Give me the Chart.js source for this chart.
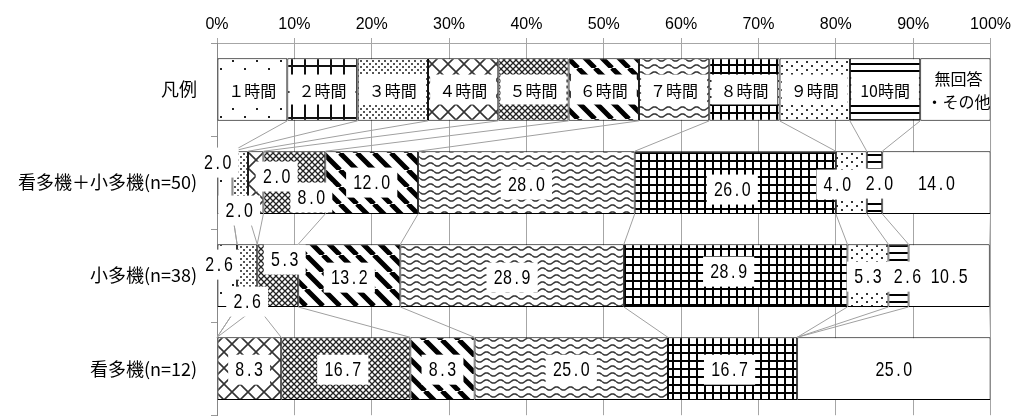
<!DOCTYPE html>
<html>
<head>
<meta charset="utf-8">
<script src="https://cdn.jsdelivr.net/npm/chart.js@4"></script>
<style>
  html, body { margin: 0; padding: 0; background: #fff; overflow: hidden; }
  #wrap { width: 1015px; height: 420px; overflow: hidden; position: relative; }
  canvas { display: block; }
</style>
</head>
<body>
<div id="wrap"><canvas id="c" width="1015" height="440"></canvas></div>
<script>
// Row labels (top to bottom)
const categories = ['凡例', '看多機＋小多機(n=50)', '小多機(n=38)', '看多機(n=12)'];

// Series (hours per day)
const seriesNames = ['１時間', '２時間', '３時間', '４時間', '５時間', '６時間',
                     '７時間', '８時間', '９時間', '10時間', '無回答・その他'];

// Key row: every series gets an equal cell
const keyRow = [9.091, 9.091, 9.091, 9.091, 9.091, 9.091, 9.091, 9.091, 9.091, 9.091, 9.09];

// Percentages per group, in series order
const bothGroups = [2.0, 0, 2.0, 2.0, 8.0, 12.0, 28.0, 26.0, 4.0, 2.0, 14.0];
const smallMulti = [2.6, 0, 2.6, 0, 5.3, 13.2, 28.9, 28.9, 5.3, 2.6, 10.5];
const nurseMulti = [0, 0, 0, 8.3, 16.7, 8.3, 25.0, 16.7, 0, 0, 25.0];

// Axis tick labels
const xTickLabels = ['0%', '10%', '20%', '30%', '40%', '50%', '60%', '70%', '80%', '90%', '100%'];

const rows = [keyRow, bothGroups, smallMulti, nurseMulti];

const canvas = document.getElementById('c');
const ctx = canvas.getContext('2d');

// ---- hatch fills -------------------------------------------------------
function tile(w, h, paint) {
  const c = document.createElement('canvas');
  c.width = w; c.height = h;
  const g = c.getContext('2d');
  g.fillStyle = '#fff';
  g.fillRect(0, 0, w, h);
  paint(g, w, h);
  return ctx.createPattern(c, 'repeat');
}

const fills = [
  // 1h: sparse dots
  tile(24, 16, g => { g.fillStyle = '#222'; g.fillRect(4, 4, 2, 2); g.fillRect(16, 12, 2, 2); }),
  // 2h: vertical rules with sparse horizontal rules
  tile(13, 26, g => { g.fillStyle = '#111'; g.fillRect(5, 0, 2, 26); g.fillRect(0, 13, 13, 2); }),
  // 3h: fine dots
  tile(6, 6, g => { g.fillStyle = '#555'; g.fillRect(0, 0, 2, 2); g.fillRect(3, 3, 2, 2); }),
  // 4h: diamond lattice
  tile(16, 16, g => {
    g.strokeStyle = '#333'; g.lineWidth = 1.6;
    g.beginPath(); g.moveTo(0, 0); g.lineTo(16, 16); g.moveTo(16, 0); g.lineTo(0, 16); g.stroke();
  }),
  // 5h: dense small lattice
  tile(6, 6, g => {
    g.strokeStyle = '#222'; g.lineWidth = 1.3;
    g.beginPath(); g.moveTo(0, 0); g.lineTo(6, 6); g.moveTo(6, 0); g.lineTo(0, 6); g.stroke();
  }),
  // 6h: wide diagonal stripes
  tile(17, 17, g => {
    g.strokeStyle = '#000'; g.lineWidth = 5;
    g.beginPath();
    [-17, 0, 17].forEach(k => { g.moveTo(k, 0); g.lineTo(k + 17, 17); });
    g.stroke();
  }),
  // 7h: waves
  tile(14, 7, g => {
    g.strokeStyle = '#333'; g.lineWidth = 1.5;
    g.beginPath();
    for (let x = 0; x <= 14; x += 0.5) {
      const y = 3.5 + 1.6 * Math.sin(x / 14 * Math.PI * 2);
      if (x === 0) g.moveTo(x, y); else g.lineTo(x, y);
    }
    g.stroke();
  }),
  // 8h: small bold grid
  tile(8, 8, g => { g.fillStyle = '#000'; g.fillRect(0, 0, 8, 2); g.fillRect(0, 0, 2, 8); }),
  // 9h: medium dots
  tile(10, 8, g => { g.fillStyle = '#333'; g.fillRect(1, 1, 2, 2); g.fillRect(6, 5, 2, 2); }),
  // 10h: horizontal rules
  tile(4, 7, g => { g.fillStyle = '#000'; g.fillRect(0, 0, 4, 2); }),
  // no answer / other: plain
  '#ffffff'
];

// ---- label nudges (px) keyed "row-series" -----------------------------
const labelNudge = {
  '1-0': [-7, -20], '1-2': [-1, 28], '1-3': [21, -6], '1-4': [17, 15],
  '1-6': [0, 2], '1-7': [-3, 7], '1-8': [-14, 2], '1-9': [5, 1], '1-10': [0, 1],
  '2-0': [-8, -11], '2-2': [0, 26], '2-4': [7, -16], '2-5': [0, 2], '2-6': [0, 2],
  '2-7': [-7, -4], '2-8': [0, 1], '2-9': [9, 1], '2-10': [0, 1],
  '3-4': [-3, 1], '3-7': [-3, 1], '3-3': [0, 1], '3-5': [0, 1], '3-6': [0, 1], '3-10': [0, 1]
};

function cumulative(row, i) {
  let s = 0;
  for (let k = 0; k <= i; k++) s += row[k];
  return s;
}

// monospaced, slightly condensed numerals
function drawNumber(g, text, cx, cy) {
  const adv = 9.3;
  g.font = '21px "Liberation Sans", Arial, sans-serif';
  g.textAlign = 'center';
  g.textBaseline = 'middle';
  let x = cx - text.length * adv / 2 + adv / 2;
  for (const ch of text) {
    g.save();
    g.translate(x, cy + 1);
    g.scale(0.76, 1);
    g.fillText(ch, 0, 0);
    g.restore();
    x += adv;
  }
  return text.length * adv;
}

const overlayPlugin = {
  id: 'overlay',
  afterDatasetsDraw(chart) {
    const g = chart.ctx;
    const xs = chart.scales.x;
    const bars = chart.getDatasetMeta(0).data;

    // connector lines between neighbouring bars
    g.save();
    g.strokeStyle = '#a0a0a0';
    g.lineWidth = 1;
    for (let j = 0; j < rows.length - 1; j++) {
      const a = bars[j].getProps(['y', 'height'], true);
      const b = bars[j + 1].getProps(['y', 'height'], true);
      const y1 = a.y + a.height / 2;
      const y2 = b.y - b.height / 2;
      for (let i = 0; i < seriesNames.length; i++) {
        const x1 = xs.getPixelForValue(Math.min(100, cumulative(rows[j], i)));
        const x2 = xs.getPixelForValue(Math.min(100, cumulative(rows[j + 1], i)));
        g.beginPath();
        g.moveTo(x1, y1);
        g.lineTo(x2, y2);
        g.stroke();
      }
    }
    g.restore();

    // key row captions
    g.save();
    g.fillStyle = '#000';
    const keyY = bars[0].getProps(['y'], true).y;
    for (let i = 0; i < seriesNames.length; i++) {
      const x0 = xs.getPixelForValue(cumulative(keyRow, i) - keyRow[i]);
      const x1 = xs.getPixelForValue(Math.min(100, cumulative(keyRow, i)));
      const cx = (x0 + x1) / 2;
      const name = seriesNames[i];
      g.font = '16px "Noto Sans CJK JP", sans-serif';
      g.textAlign = 'center';
      g.textBaseline = 'middle';
      if (name.indexOf('・') > 0) {
        const parts = [name.slice(0, name.indexOf('・')), name.slice(name.indexOf('・'))];
        g.fillStyle = '#fff';
        g.fillRect(cx - 30, keyY - 26, 60, 50);
        g.fillStyle = '#000';
        g.fillText(parts[0], cx + 3, keyY - 11);
        g.fillText(parts[1], cx + 3, keyY + 12);
      } else {
        const w = g.measureText(name).width;
        g.fillStyle = '#fff';
        g.fillRect(cx - w / 2 - 9, keyY - 15, w + 18, 30);
        g.fillStyle = '#000';
        g.fillText(name, cx, keyY + 1);
      }
    }
    g.restore();

    // value labels
    g.save();
    for (let j = 1; j < rows.length; j++) {
      const rowY = bars[j].getProps(['y'], true).y;
      for (let i = 0; i < seriesNames.length; i++) {
        const v = rows[j][i];
        if (!v) continue;
        const end = cumulative(rows[j], i);
        const cx0 = xs.getPixelForValue(end - v / 2);
        const nudge = labelNudge[j + '-' + i] || [0, 0];
        const cx = cx0 + nudge[0];
        const cy = rowY + nudge[1];
        const text = v.toFixed(1);
        const w = text.length * 9.3;
        g.fillStyle = '#fff';
        g.fillRect(cx - w / 2 - 7, cy - 15, w + 14, 30);
        g.fillStyle = '#000';
        drawNumber(g, text, cx, cy);
      }
    }
    g.restore();
  }
};

new Chart(ctx, {
  type: 'bar',
  data: {
    labels: categories,
    datasets: seriesNames.map((name, i) => ({
      label: name,
      data: rows.map(r => r[i]),
      backgroundColor: fills[i],
      borderColor: '#000',
      borderWidth: 1,
      borderSkipped: false,
      barPercentage: 0.6737,
      categoryPercentage: 1
    }))
  },
  options: {
    indexAxis: 'y',
    responsive: false,
    devicePixelRatio: 1,
    animation: false,
    layout: { padding: { left: 0, top: 0, right: 23, bottom: 17 } },
    plugins: {
      legend: { display: false },
      tooltip: { enabled: false }
    },
    scales: {
      x: {
        type: 'linear',
        position: 'top',
        stacked: true,
        min: 0,
        max: 100,
        ticks: {
          stepSize: 10,
          autoSkip: false,
          maxRotation: 0,
          padding: 4,
          color: '#000',
          font: { family: '"Liberation Sans Narrow", "Liberation Sans", sans-serif', size: 16 },
          callback: v => xTickLabels[Math.round(v / 10)]
        },
        grid: { color: '#a6a6a6', lineWidth: 1, tickLength: 5 },
        border: { color: '#a6a6a6' },
        afterFit: s => { s.height = 43; }
      },
      y: {
        type: 'category',
        stacked: true,
        ticks: {
          padding: 14,
          color: '#000',
          font: { family: '"Noto Sans CJK JP", sans-serif', size: 18 }
        },
        grid: { offset: true, drawOnChartArea: false, tickLength: 6, color: '#999' },
        border: { color: '#888' },
        afterFit: s => { s.width = 217; }
      }
    }
  },
  plugins: [overlayPlugin]
});
</script>
</body>
</html>
